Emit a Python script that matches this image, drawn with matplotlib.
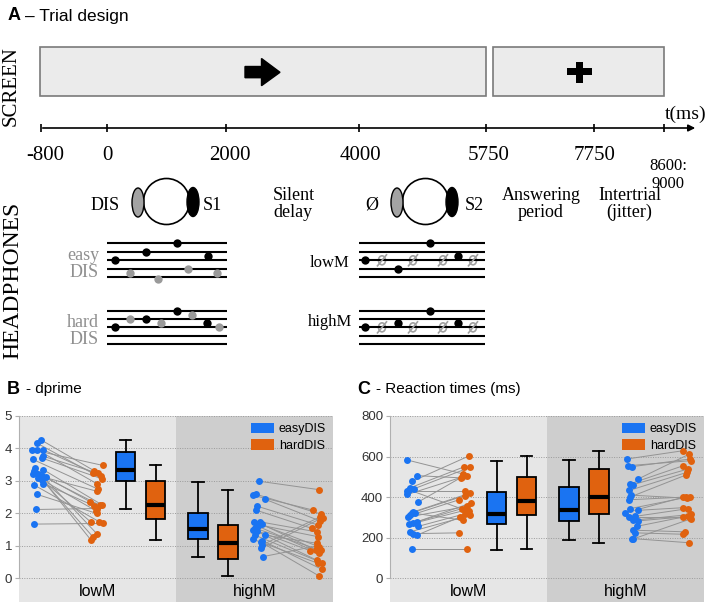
import matplotlib
matplotlib.use('Agg')
import matplotlib.pyplot as plt
from matplotlib.patches import Rectangle, Ellipse, Circle, Polygon, Patch

W, H = 710, 608
BLUE = '#1a74f2'
ORANGE = '#e0620f'
LIGHT = '#e6e6e6'
DARK = '#cecece'
SERIF = 'Liberation Serif'
SANS = 'Liberation Sans'

# ---------------- panel A (schematic) ----------------
time_labels = ['-800', '0', '2000', '4000', '5750', '7750']
end_label = '8600:\n9000'

# note heights on the staves, in half-gaps below the top line
easy_black = [4, 2, 0, 3]
easy_gray = [7, 8.5, 6, 7]
hard_black = [4, 2, 0, 3]
hard_gray = [2, 3, 1, 4]
lowm_black = [4, 6, 0, 3]
highm_black = [4, 3, 0, 3]
null_step = 4

# ---------------- panel B: dprime ----------------
b_low_easy_x = [0.69, 0.56, 0.42, 0.58, 0.77, 0.77, 0.74, 0.45, 0.51, 0.77, 0.49,
                0.45, 0.62, 0.74, 0.85, 0.74, 0.77, 0.49, 0.56, 0.54, 0.49, 0.62]
b_low_easy = [4.27, 4.17, 3.96, 3.96, 3.96, 3.76, 3.70, 3.66, 3.40, 3.35, 3.31,
              3.20, 3.20, 3.15, 3.12, 3.03, 2.92, 2.87, 2.59, 2.12, 1.67, 3.10]
b_low_hard_x = [2.40, 2.35, 2.66, 2.47, 2.61, 2.53, 2.63, 2.53, 2.47, 2.63, 2.37,
                2.49, 2.29, 2.58, 2.26, 2.28, 2.40, 2.56, 2.47, 2.47, 2.66, 2.45]
b_low_hard = [3.31, 3.23, 3.48, 2.92, 3.15, 3.23, 3.07, 2.74, 1.38, 2.27, 1.26,
              2.68, 1.18, 2.25, 2.36, 1.74, 2.23, 1.74, 2.00, 2.15, 1.69, 2.08]
b_high_easy_x = [7.65, 7.44, 7.55, 7.59, 7.55, 7.85, 7.48, 7.67, 7.73, 7.57, 7.46,
                 7.57, 7.51, 7.83, 7.46, 7.75, 7.73, 7.71, 7.78, 7.62, 7.50, 7.70]
b_high_easy = [2.99, 2.56, 2.59, 2.22, 2.10, 2.43, 1.74, 1.74, 1.67, 1.66, 1.50,
               1.47, 1.33, 1.33, 1.20, 1.16, 1.02, 0.92, 0.67, 1.60, 1.55, 1.12]
b_high_hard_x = [9.56, 9.37, 9.61, 9.53, 9.32, 9.58, 9.56, 9.48, 9.46, 9.53, 9.48,
                 9.27, 9.64, 9.48, 9.53, 9.64, 9.60, 9.67, 9.50, 9.56, 9.61, 9.56]
b_high_hard = [2.73, 2.10, 1.98, 1.64, 1.54, 1.77, 0.97, 1.43, 0.87, 1.28, 0.56,
               0.85, 0.48, 1.08, 0.46, 0.28, 1.90, 1.87, 1.00, 0.77, 0.86, 0.07]
# boxes: lowM-easy, lowM-hard, highM-easy, highM-hard
b_q1 = [3.00, 1.82, 1.22, 0.60]
b_med = [3.33, 2.25, 1.53, 1.10]
b_q3 = [3.90, 3.00, 2.00, 1.63]
b_wlo = [2.13, 1.18, 0.66, 0.06]
b_whi = [4.25, 3.48, 2.98, 2.72]

# ---------------- panel C: reaction times ----------------
c_low_easy_x = [0.55, 0.85, 0.71, 0.64, 0.76, 0.53, 0.55, 0.90, 0.74, 0.69, 0.64,
                0.58, 0.85, 0.74, 0.62, 0.90, 0.64, 0.74, 0.85, 0.69, 0.80, 0.60]
c_low_easy = [583, 506, 478, 446, 441, 429, 413, 376, 327, 322, 310,
              302, 278, 273, 266, 256, 229, 220, 212, 144, 320, 436]
c_low_hard_x = [2.33, 2.26, 2.53, 2.37, 2.55, 2.39, 2.44, 2.30, 2.55, 2.39, 2.20,
                2.44, 2.58, 2.28, 2.46, 2.39, 2.55, 2.21, 2.23, 2.46, 2.33, 2.50]
c_low_hard = [514, 495, 604, 550, 547, 429, 506, 500, 420, 408, 387,
              354, 371, 343, 338, 318, 310, 224, 302, 144, 286, 330]
c_high_easy_x = [7.54, 7.59, 7.70, 7.91, 7.64, 7.75, 7.62, 7.64, 7.62, 7.48, 7.64,
                 7.91, 7.80, 7.73, 7.91, 7.86, 7.75, 7.80, 7.70, 7.75, 7.66, 7.60]
c_high_easy = [588, 555, 550, 490, 465, 462, 433, 400, 387, 322, 343,
               335, 305, 286, 283, 256, 237, 224, 196, 194, 410, 300]
c_high_hard_x = [9.34, 9.60, 9.55, 9.53, 9.34, 9.50, 9.47, 9.44, 9.34, 9.42, 9.57,
                 9.34, 9.48, 9.60, 9.50, 9.34, 9.39, 9.34, 9.53, 9.60, 9.45, 9.55]
c_high_hard = [629, 580, 588, 612, 555, 539, 523, 510, 400, 403, 403,
               348, 343, 315, 305, 302, 229, 217, 175, 294, 395, 298]
c_q1 = [266, 310, 280, 316]
c_med = [318, 380, 335, 400]
c_q3 = [425, 498, 452, 538]
c_wlo = [140, 143, 190, 172]
c_whi = [580, 604, 585, 627]

conditions = ['lowM', 'highM']
legend_labels = ['easyDIS', 'hardDIS']

fig = plt.figure(figsize=(7.1, 6.08), dpi=100)
ax0 = fig.add_axes([0, 0, 1, 1])
ax0.set_xlim(0, W)
ax0.set_ylim(H, 0)
ax0.axis('off')

# title A
ax0.text(8, 16, 'A', fontsize=13, fontweight='bold', family=SANS, va='center')
ax0.text(25, 16, '– Trial design', fontsize=12.5, family=SANS, va='center')

# screen boxes
ax0.add_patch(Rectangle((40, 47), 446, 48.5, fc='#ebebeb', ec='#7a7a7a', lw=1.2))
ax0.add_patch(Rectangle((493, 47), 171, 48.5, fc='#ebebeb', ec='#7a7a7a', lw=1.2))
ax0.add_patch(Polygon([(245, 66.5), (261.5, 66.5), (261.5, 58.5), (280, 72.3),
                       (261.5, 85.7), (261.5, 77.7), (245, 77.7)], closed=True, fc='k', ec='k'))
ax0.add_patch(Rectangle((566.5, 68.3), 25, 6.8, fc='k'))
ax0.add_patch(Rectangle((576, 61.7), 6.8, 21.6, fc='k'))
ax0.text(11, 86, 'SCREEN', rotation=90, ha='center', va='center', fontsize=15, family=SERIF)

# time line (schematic, not to scale)
tick_px = [40.5, 107, 226, 359, 486, 594, 664]
label_px = [45, 107, 230, 360, 489, 595]
ax0.annotate('', xy=(698, 128), xytext=(40, 128),
             arrowprops=dict(arrowstyle='-|>', color='k', lw=1.2, mutation_scale=10))
ax0.vlines(tick_px, 124, 132, color='k', lw=1.2)
for lab, px in zip(time_labels, label_px):
    ax0.text(px, 155, lab, ha='center', va='center', fontsize=15, family=SERIF)
ax0.text(668, 175, end_label, ha='center', va='center', fontsize=12, family=SERIF, linespacing=1.15)
ax0.text(706, 114, 't(ms)', ha='right', va='center', fontsize=14, family=SERIF)


def headset(cx):
    ax0.add_patch(Circle((cx, 201.5), 23, fc='white', ec='k', lw=1.2))
    ax0.add_patch(Ellipse((cx - 28.5, 202.5), 12, 29, fc='#a3a3a3', ec='k', lw=1.0))
    ax0.add_patch(Ellipse((cx + 26.5, 202), 12, 29, fc='k', ec='k'))


headset(166.5)
headset(425.5)
ax0.text(105, 205, 'DIS', ha='center', va='center', fontsize=13, family=SERIF)
ax0.text(212, 205, 'S1', ha='center', va='center', fontsize=13, family=SERIF)
ax0.text(372, 205, 'Ø', ha='center', va='center', fontsize=13, family=SERIF)
ax0.text(474, 205, 'S2', ha='center', va='center', fontsize=13, family=SERIF)
ax0.text(273, 204, 'Silent\ndelay', ha='left', va='center', fontsize=13, family=SERIF, linespacing=1.0)
ax0.text(541, 204, 'Answering\nperiod', ha='center', va='center', fontsize=13, family=SERIF, linespacing=1.0)
ax0.text(629.5, 204, 'Intertrial\n(jitter)', ha='center', va='center', fontsize=13, family=SERIF, linespacing=1.0)
ax0.text(13, 280, 'HEADPHONES', rotation=90, ha='center', va='center', fontsize=17, family=SERIF)


def stave(x0, x1, ytop, gap):
    ax0.hlines([ytop + k * gap for k in range(5)], x0, x1, color='k', lw=1.5)


def notes(xs, steps, ytop, gap, color):
    ys = [ytop + s * gap / 2 for s in steps]
    ax0.plot(xs, ys, 'o', color=color, ms=6, mec='none')


def nulls(xs, step, ytop, gap):
    y = ytop + step * gap / 2
    for x in xs:
        ax0.add_patch(Ellipse((x, y), 7, 9, fc='none', ec='#a0a0a0', lw=1.2))
        ax0.plot([x - 4.5, x + 4.5], [y + 5.5, y - 5.5], color='#a0a0a0', lw=1.2)


GRAYDOT = '#9a9a9a'
stave(107, 227, 243.3, 8.5)
notes([115, 146, 177, 208], easy_black, 243.3, 8.5, 'k')
notes([130, 158, 188, 217], easy_gray, 243.3, 8.5, GRAYDOT)
stave(107, 227, 310.7, 8.33)
notes([115, 146, 177, 207], hard_black, 310.7, 8.33, 'k')
notes([130, 161, 192, 219], hard_gray, 310.7, 8.33, GRAYDOT)
ax0.text(99, 264, 'easy\nDIS', ha='right', va='center', fontsize=13, family=SERIF, color='#8f8f8f', linespacing=1.0)
ax0.text(99, 331, 'hard\nDIS', ha='right', va='center', fontsize=13, family=SERIF, color='#8f8f8f', linespacing=1.0)

stave(359, 485, 243.3, 8.5)
nulls([382, 413, 443, 473], null_step, 243.3, 8.5)
notes([365, 398, 430, 458], lowm_black, 243.3, 8.5, 'k')
stave(359, 485, 310.7, 8.33)
nulls([382, 413, 443, 473], null_step, 310.7, 8.33)
notes([365, 398, 430, 458], highm_black, 310.7, 8.33, 'k')
ax0.text(330, 263, 'lowM', ha='center', va='center', fontsize=12, family=SERIF)
ax0.text(330, 322, 'highM', ha='center', va='center', fontsize=12, family=SERIF)

# panel titles B, C
ax0.text(7, 389, 'B', fontsize=13, fontweight='bold', family=SANS, va='center')
ax0.text(26, 389, '- dprime', fontsize=11, family=SANS, va='center')
ax0.text(357, 389, 'C', fontsize=13, fontweight='bold', family=SANS, va='center')
ax0.text(376, 389, '- Reaction times (ms)', fontsize=11, family=SANS, va='center')

box_pos = [3.4, 4.35, 5.7, 6.65]


def draw_panel(ax, series, q1, med, q3, wlo, whi, yticks, ymin):
    ax.set_xlim(0, 10)
    ax.set_ylim(ymin, yticks[-1])
    ax.set_facecolor(LIGHT)
    ax.axvspan(5, 10, color=DARK, lw=0, zorder=0)
    for y in yticks:
        ax.axhline(y, color='#9a9a9a', ls=(0, (1, 1.5)), lw=0.7, zorder=1)
    for ex, ey, hx, hy in series:
        for a, b, c, d in zip(ex, ey, hx, hy):
            ax.plot([a, c], [b, d], color='#939393', lw=0.7, zorder=2)
        ax.plot(ex, ey, 'o', color=BLUE, ms=5, mec='none', zorder=3)
        ax.plot(hx, hy, 'o', color=ORANGE, ms=5, mec='none', zorder=3)
    stats = [dict(q1=a, med=b, q3=c, whislo=d, whishi=e)
             for a, b, c, d, e in zip(q1, med, q3, wlo, whi)]
    bp = ax.bxp(stats, positions=box_pos, widths=0.62, patch_artist=True,
                showfliers=False, capwidths=0.36, manage_ticks=False,
                boxprops=dict(lw=1.3, edgecolor='k'),
                medianprops=dict(color='k', lw=3),
                whiskerprops=dict(lw=1.3, color='k'),
                capprops=dict(lw=1.3, color='k'))
    for patch, col in zip(bp['boxes'], [BLUE, ORANGE, BLUE, ORANGE]):
        patch.set_facecolor(col)
        patch.set_zorder(4)
    for key in ['medians', 'whiskers', 'caps']:
        for art in bp[key]:
            art.set_zorder(4)
    for i, name in enumerate(conditions):
        ax.text(2.5 + 5 * i, ymin * 0.56, name, ha='center', va='center', fontsize=11.5, family=SANS)
    for s in ['top', 'right', 'bottom']:
        ax.spines[s].set_visible(False)
    ax.spines['left'].set_color('#b0b0b0')
    ax.spines['left'].set_bounds(0, yticks[-1])
    ax.set_xticks([])
    ax.set_yticks(yticks)
    ax.tick_params(axis='y', length=3, color='#b0b0b0', labelsize=9.5, labelcolor='#333333', pad=2)
    for lab in ax.get_yticklabels():
        lab.set_family(SANS)
    handles = [Patch(fc=BLUE, ec='none', label=legend_labels[0]),
               Patch(fc=ORANGE, ec='none', label=legend_labels[1])]
    ax.legend(handles=handles, loc='upper right', frameon=False,
              handlelength=1.8, handleheight=0.9, handletextpad=0.4,
              labelspacing=0.3, borderaxespad=0.15, prop={'family': SANS, 'size': 9})


axB = fig.add_axes([19 / W, (H - 602) / H, 314 / W, 186 / H])
draw_panel(axB,
           [(b_low_easy_x, b_low_easy, b_low_hard_x, b_low_hard),
            (b_high_easy_x, b_high_easy, b_high_hard_x, b_high_hard)],
           b_q1, b_med, b_q3, b_wlo, b_whi, [0, 1, 2, 3, 4, 5], -0.73)

axC = fig.add_axes([390 / W, (H - 602) / H, 314 / W, 186 / H])
draw_panel(axC,
           [(c_low_easy_x, c_low_easy, c_low_hard_x, c_low_hard),
            (c_high_easy_x, c_high_easy, c_high_hard_x, c_high_hard)],
           c_q1, c_med, c_q3, c_wlo, c_whi, [0, 200, 400, 600, 800], -117)

fig.savefig('out.png', dpi=100)
